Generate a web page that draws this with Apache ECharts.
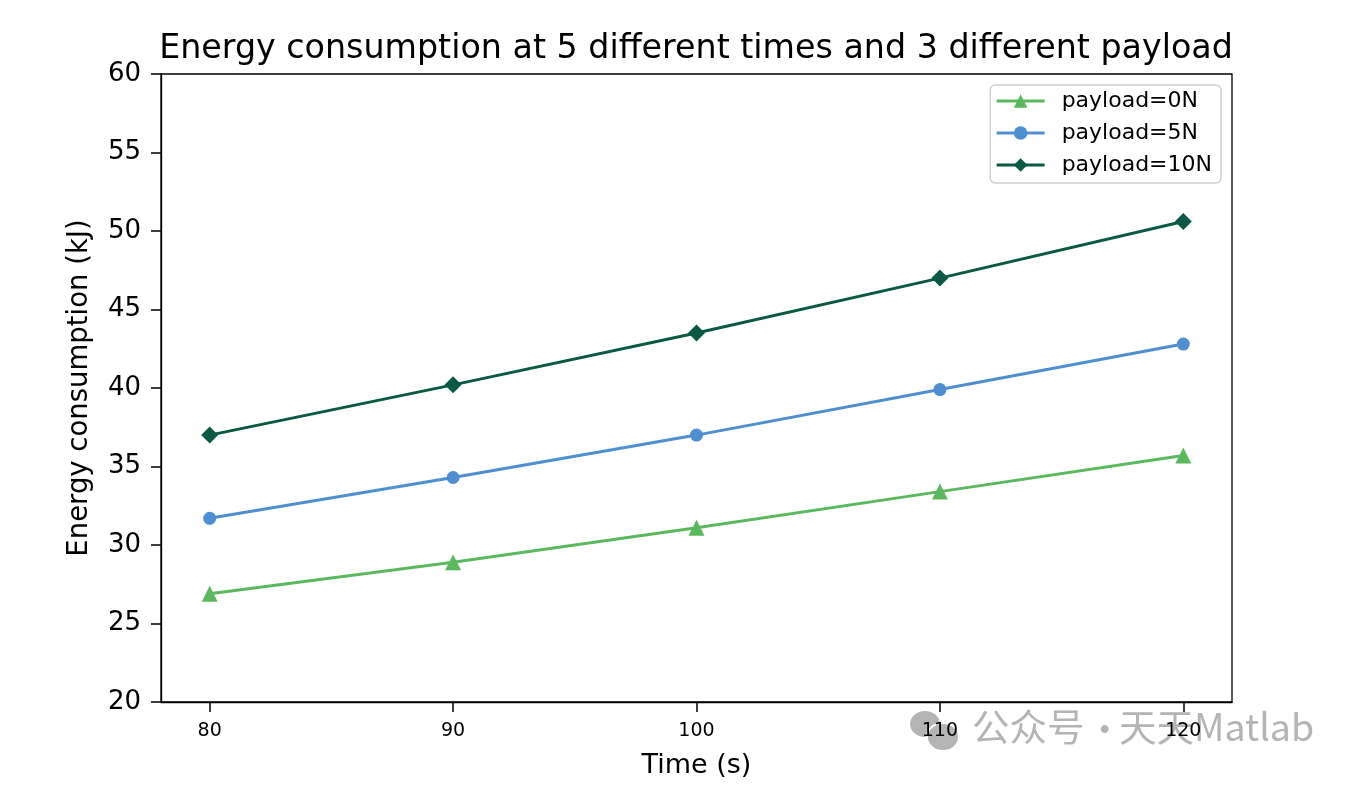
<!DOCTYPE html>
<html>
<head>
    <meta charset="utf-8" />
    <title>Energy consumption</title>
    <script src="https://cdn.jsdelivr.net/npm/echarts@6/dist/echarts.min.js"></script>
    <style>
        html, body { margin: 0; padding: 0; background: #fff; }
        #chart { width: 1358px; height: 785px; }
    </style>
</head>
<body>
    <div id="chart"></div>
    <script type="text/javascript">
        // data
        var times = [80, 90, 100, 110, 120];
        var payload0 = [26.9, 28.9, 31.1, 33.4, 35.7];
        var payload5 = [31.7, 34.3, 37.0, 39.9, 42.8];
        var payload10 = [37.0, 40.2, 43.5, 47.0, 50.6];
        var seriesNames = ['payload=0N', 'payload=5N', 'payload=10N'];

        function pairs(vals) {
            var out = [];
            for (var i = 0; i < times.length; i++) {
                out.push([times[i], vals[i]]);
            }
            return out;
        }

        var font = 'DejaVu Sans';
        var wmGray = '#b4b4b4';
        var wmFont = 'Noto Sans CJK SC';
        var chart = echarts.init(document.getElementById('chart'));
        var option = {
            backgroundColor: '#fff',
            animation: false,
            textStyle: { fontFamily: font },
            title: {
                text: 'Energy consumption at 5 different times and 3 different payload',
                left: 691,
                textAlign: 'center',
                top: 28,
                textStyle: { fontFamily: font, fontSize: 33.3, fontWeight: 'normal', color: '#000' }
            },
            grid: {
                left: 161, right: 126, top: 74, bottom: 83,
                show: true, borderColor: '#000', borderWidth: 1.3
            },
            legend: {
                data: seriesNames,
                orient: 'vertical',
                right: 137,
                top: 85,
                itemWidth: 48,
                itemHeight: 17,
                itemGap: 10,
                padding: [5, 9, 7, 5],
                borderColor: '#d0d0d0',
                borderWidth: 1.5,
                borderRadius: 5,
                lineStyle: { width: 2.8 },
                textStyle: { fontFamily: font, fontSize: 22, color: '#000', padding: [0, 0, 0, 12] }
            },
            xAxis: {
                type: 'value',
                min: 78,
                max: 122,
                name: 'Time (s)',
                nameLocation: 'middle',
                nameGap: 50,
                nameTextStyle: { fontFamily: font, fontSize: 27, color: '#000' },
                axisLine: { show: true, lineStyle: { color: '#000', width: 1.3 } },
                axisTick: { show: true, inside: false, length: 10, lineStyle: { color: '#000', width: 1.5 }, customValues: times },
                axisLabel: { fontFamily: font, fontSize: 19, color: '#000', margin: 20, customValues: times },
                splitLine: { show: false }
            },
            yAxis: {
                type: 'value',
                min: 20,
                max: 60,
                interval: 5,
                name: 'Energy consumption (kJ)',
                nameLocation: 'middle',
                nameGap: 67,
                nameTextStyle: { fontFamily: font, fontSize: 27.5, color: '#000' },
                axisLine: { show: true, lineStyle: { color: '#000', width: 1.3 } },
                axisTick: { show: true, inside: false, length: 10, lineStyle: { color: '#000', width: 1.5 } },
                axisLabel: { fontFamily: font, fontSize: 26, color: '#000', margin: 20 },
                splitLine: { show: false }
            },
            series: [
                {
                    name: seriesNames[0],
                    type: 'line',
                    data: pairs(payload0),
                    symbol: 'triangle',
                    symbolSize: 16,
                    color: '#5cb85f',
                    lineStyle: { width: 3 },
                    z: 3
                },
                {
                    name: seriesNames[1],
                    type: 'line',
                    data: pairs(payload5),
                    symbol: 'circle',
                    symbolSize: 13,
                    color: '#4f8fd0',
                    lineStyle: { width: 3 },
                    z: 4
                },
                {
                    name: seriesNames[2],
                    type: 'line',
                    data: pairs(payload10),
                    symbol: 'diamond',
                    symbolSize: 17,
                    color: '#0b5945',
                    lineStyle: { width: 3 },
                    z: 5
                }
            ],
            graphic: [
                {
                    type: 'ellipse',
                    shape: { cx: 925, cy: 724, rx: 15, ry: 13 },
                    style: { fill: wmGray },
                    z: -1
                },
                {
                    type: 'ellipse',
                    shape: { cx: 943, cy: 737, rx: 16, ry: 14 },
                    style: { fill: wmGray, stroke: '#fff', lineWidth: 2 },
                    z: -1
                },
                {
                    type: 'text',
                    left: 972,
                    top: 708,
                    z: -1,
                    style: { text: '公众号', fontFamily: wmFont, fontSize: 37.5, fill: wmGray }
                },
                {
                    type: 'text',
                    left: 1086,
                    top: 710,
                    z: -1,
                    style: { text: '·', fontFamily: wmFont, fontSize: 37.5, fill: wmGray }
                },
                {
                    type: 'text',
                    left: 1119,
                    top: 708,
                    z: -1,
                    style: { text: '天天Matlab', fontFamily: wmFont, fontSize: 37.5, fill: wmGray }
                }
            ]
        };
        chart.setOption(option);
    </script>
</body>
</html>
